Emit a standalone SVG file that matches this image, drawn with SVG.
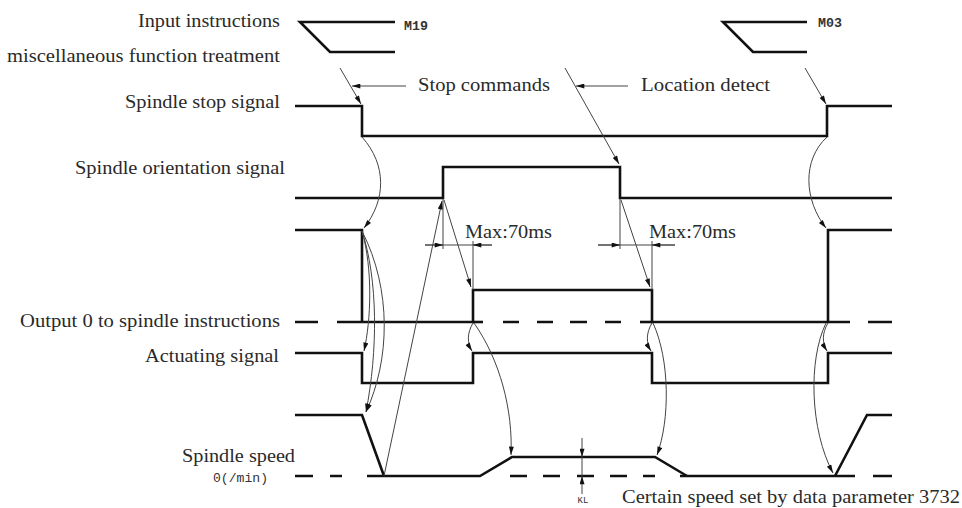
<svg xmlns="http://www.w3.org/2000/svg" width="962" height="508" viewBox="0 0 962 508">
<style>
.lbl{font-family:"Liberation Serif","Times New Roman",serif;font-size:19px;fill:#2a2a2a}
.mono{font-family:"Liberation Mono","Courier New",monospace;fill:#333}
.wave{fill:none;stroke:#111;stroke-width:2.6;stroke-linejoin:miter}
.thin{fill:none;stroke:#444;stroke-width:1}
.arr{fill:none;stroke:#444;stroke-width:1;marker-end:url(#ah)}
</style>
<defs>
<marker id="ah" viewBox="0 0 10 6" refX="10" refY="3" markerWidth="11" markerHeight="5" markerUnits="userSpaceOnUse" orient="auto">
<path d="M0,0 L10,3 L0,6 z" fill="#111"/>
</marker>
</defs>
<rect width="962" height="508" fill="#fff"/>

<g id="input-instructions">
<text class="lbl" x="138" y="27" textLength="142" lengthAdjust="spacingAndGlyphs">Input instructions</text>
<text class="lbl" x="7" y="62" textLength="273" lengthAdjust="spacingAndGlyphs">miscellaneous function treatment</text>
<path class="wave" d="M395,22 H300 L330,52 H395"/>
<text class="mono" x="404" y="30" font-size="12.5" font-weight="bold" textLength="24" lengthAdjust="spacingAndGlyphs">M19</text>
<path class="wave" d="M807,22 H723 L753,52 H807"/>
<text class="mono" x="818" y="27" font-size="12.5" font-weight="bold" textLength="24" lengthAdjust="spacingAndGlyphs">M03</text>
</g>

<g id="spindle-stop-signal">
<text class="lbl" x="125" y="108" textLength="155" lengthAdjust="spacingAndGlyphs">Spindle stop signal</text>
<path class="wave" d="M295,106 H362 V136 H827 V106 H892"/>
</g>

<g id="stop-commands">
<text class="lbl" x="418" y="91" textLength="132" lengthAdjust="spacingAndGlyphs">Stop commands</text>
</g>

<g id="location-detect">
<text class="lbl" x="641" y="91" textLength="129" lengthAdjust="spacingAndGlyphs">Location detect</text>
</g>

<g id="spindle-orientation-signal">
<text class="lbl" x="75" y="174" textLength="210" lengthAdjust="spacingAndGlyphs">Spindle orientation signal</text>
<path class="wave" d="M295,198 H443 V167 H620 V198 H892"/>
</g>

<g id="orientation-complete-signal">
<path class="wave" d="M295,230 H362 V322"/>
<path class="wave" d="M828,322 V230 H892"/>
</g>

<g id="output-0-to-spindle">
<text class="lbl" x="20" y="327" textLength="260" lengthAdjust="spacingAndGlyphs">Output 0 to spindle instructions</text>
<path class="wave" d="M295,322 h23 M503,322 h16 M537,322 h16 M570,322 h17 M605,322 h16 M868,322 h24"/>
<path class="wave" d="M337,322 H473 V290 H652 V322 H850"/>
<path class="wave" d="M473,322 H483"/>
<path class="wave" d="M640,322 H652"/>
</g>

<g id="actuating-signal">
<text class="lbl" x="145" y="362" textLength="134" lengthAdjust="spacingAndGlyphs">Actuating signal</text>
<path class="wave" d="M295,353 H362 V383 H473 V353 H652 V383 H828 V353 H892"/>
</g>

<g id="spindle-speed">
<text class="lbl" x="182" y="462" textLength="113" lengthAdjust="spacingAndGlyphs">Spindle speed</text>
<text class="mono" x="213" y="482" font-size="12" textLength="55" lengthAdjust="spacingAndGlyphs">0(/min)</text>
<path class="wave" d="M295,476 h18 M330,476 h12 M510,476 h17 M543,476 h17 M577,476 h17 M610,476 h17 M643,476 h12 M873,476 h19"/>
<path class="wave" d="M295,415 H362 L384,476"/>
<path class="wave" d="M367,476 H480 L512,457 H655 L687,476"/>
<path class="wave" d="M680,476 H855"/>
<path class="wave" d="M835,476 L867,415 H892"/>
</g>

<g id="max-70ms-1">
<text class="lbl" x="465" y="238" textLength="87" lengthAdjust="spacingAndGlyphs">Max:70ms</text>
<path class="thin" d="M443,199 V249 M473,241 V290"/>
<path class="thin" d="M425,245 H492"/>
<path class="thin" d="M425,245 H443" marker-end="url(#ah)"/>
<path class="thin" d="M492,245 H473" marker-end="url(#ah)"/>
</g>

<g id="max-70ms-2">
<text class="lbl" x="649" y="238" textLength="87" lengthAdjust="spacingAndGlyphs">Max:70ms</text>
<path class="thin" d="M620,199 V249 M652,241 V290"/>
<path class="thin" d="M598,245 H675"/>
<path class="thin" d="M598,245 H620" marker-end="url(#ah)"/>
<path class="thin" d="M675,245 H652" marker-end="url(#ah)"/>
</g>

<g id="kl-speed">
<path class="thin" d="M582,438 V457" marker-end="url(#ah)"/>
<path class="thin" d="M582,494 V476" marker-end="url(#ah)"/>
<path class="thin" d="M582,457 V476"/>
<text class="mono" x="583" y="503" font-size="9" text-anchor="middle">KL</text>
<text class="lbl" x="622" y="503" textLength="338" lengthAdjust="spacingAndGlyphs">Certain speed set by data parameter 3732</text>
</g>

<g id="connectors">
<path class="arr" d="M340,68 L361,104"/>
<path class="arr" d="M406,86 L352,86"/>
<path class="arr" d="M565,68 L619,164"/>
<path class="arr" d="M628,86 L576,86"/>
<path class="arr" d="M805,68 L826,104"/>
<path class="arr" d="M362,137 C387,165 386,200 364,228"/>
<path class="arr" d="M827,137 C802,160 804,200 826,228"/>
<path class="arr" d="M362,231 C373,270 371,320 364,351"/>
<path class="arr" d="M362,231 C378,280 378,350 366,412"/>
<path class="arr" d="M362,231 C392,290 390,360 366,412"/>
<path class="arr" d="M384,476 L442,201"/>
<path class="arr" d="M444,200 L471,287"/>
<path class="arr" d="M473,323 C467,333 467,343 472,351"/>
<path class="arr" d="M474,323 C500,360 513,410 511,455"/>
<path class="arr" d="M621,200 L650,287"/>
<path class="arr" d="M652,323 C646,333 646,343 651,351"/>
<path class="arr" d="M653,323 C670,360 670,420 657,455"/>
<path class="arr" d="M828,323 C822,333 822,343 827,351"/>
<path class="arr" d="M826,323 C808,360 810,430 833,473"/>
</g>
</svg>
